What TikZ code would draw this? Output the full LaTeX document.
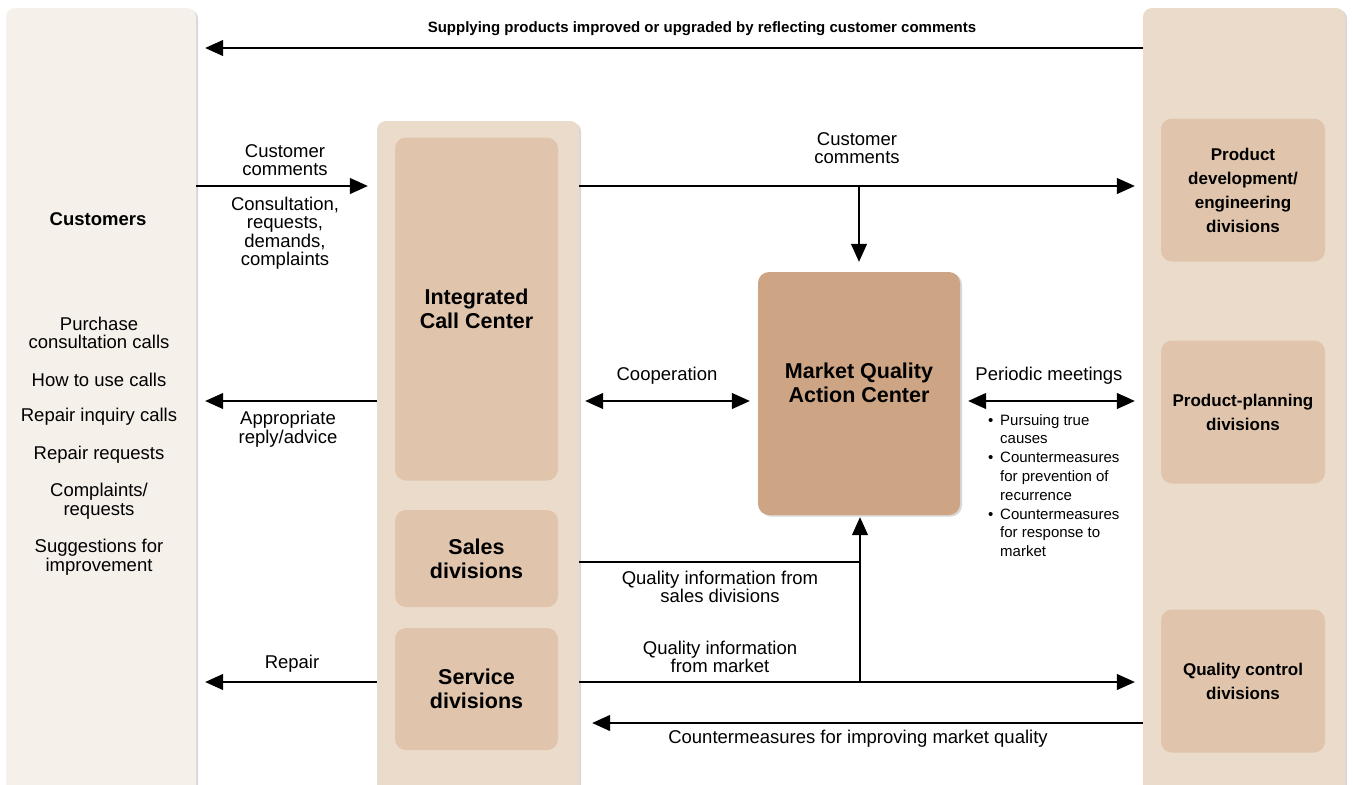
\documentclass[tikz,border=0pt]{standalone}
\usepackage{fontspec}
\setmainfont{Liberation Sans}
\usetikzlibrary{arrows.meta,shadows}
\definecolor{custbg}{HTML}{F5F0EA}
\definecolor{panelbg}{HTML}{EBDBCB}
\definecolor{boxbg}{HTML}{E0C5AC}
\definecolor{centerbg}{HTML}{CDA584}
\tikzset{
  shade/.style={drop shadow={shadow xshift=2pt, shadow yshift=-1.5pt, opacity=0.3}},
  panel/.style={fill=#1, rounded corners=9pt, inner sep=0pt, shade},
  unit/.style={fill=boxbg, rounded corners=11pt, inner sep=0pt, align=center,
               font=\fontsize{21.5}{24}\selectfont\bfseries},
  rbox/.style={unit, font=\fontsize{17}{24}\selectfont\bfseries,
               minimum width=164pt, minimum height=143pt},
  txt/.style={align=center, inner sep=0pt, font=\fontsize{18.5}{18.5}\selectfont},
  arr/.style={line width=1.2pt, -{Triangle[length=18pt,width=16pt]}},
  darr/.style={line width=1.2pt, {Triangle[length=18pt,width=16pt]}-{Triangle[length=18pt,width=16pt]}},
  ln/.style={line width=1.2pt},
}
\begin{document}
\begin{tikzpicture}[x=1pt, y=-1pt]
        \useasboundingbox (0,0) rectangle (1353,785);
        \fill[white] (0,0) rectangle (1353,785);
        \clip (0,0) rectangle (1353,785);
        %panels
        \node[panel=custbg, minimum width=190pt, minimum height=800pt] (cust) at (101,408) {};
        \node[panel=panelbg, minimum width=202pt, minimum height=690pt] (ccpanel) at (478,466) {};
        \node[panel=panelbg, minimum width=202pt, minimum height=800pt] (divs) at (1244,408) {};
        %boxes
        \node[unit, minimum width=163pt, minimum height=343pt] (icc) at (476.5,309) {Integrated\\Call Center};
        \node[unit, minimum width=163pt, minimum height=97pt] (sales) at (476.5,558.5) {Sales\\divisions};
        \node[unit, minimum width=163pt, minimum height=122pt] (svc) at (476.5,689) {Service\\divisions};
        \node[unit, fill=centerbg, shade, minimum width=202pt, minimum height=243pt] (mqac) at (859,393.5) {};
        \node[align=center, font=\fontsize{21.5}{24}\selectfont\bfseries] (mqactext) at (859,383) {Market Quality\\Action Center};
        \node[rbox] (pd) at (1243,190) {Product\\development/\\engineering\\divisions};
        \node[rbox] (pp) at (1243,412) {Product-planning\\divisions};
        \node[rbox] (qc) at (1243,681) {Quality control\\divisions};

        %rows
        \coordinate (r1) at (0,48);
        \coordinate (r2) at (0,186);
        \coordinate (r3) at (0,401);
        \coordinate (r4) at (0,562);
        \coordinate (r5) at (0,682);
        \coordinate (r6) at (0,723);
        \coordinate (jx) at (860,0);

        %arrows
        \draw[arr, shorten >=9pt] (divs.west |- r1) -- (cust.east |- r1);
        \draw[arr, shorten >=9pt] (cust.east |- r2) -- (ccpanel.west |- r2);
        \draw[arr, shorten >=8pt] (ccpanel.east |- r2) -- (divs.west |- r2);
        \draw[arr, shorten >=10pt] (mqac.north |- r2) -- (mqac.north);
        \draw[arr, shorten >=9pt] (ccpanel.west |- r3) -- (cust.east |- r3);
        \draw[darr, shorten <=6pt, shorten >=8pt] (ccpanel.east |- r3) -- (mqac.west |- r3);
        \draw[darr, shorten <=8pt, shorten >=8pt] (mqac.east |- r3) -- (divs.west |- r3);
        \draw[ln] (ccpanel.east |- r4) -- (jx |- r4);
        \draw[arr, shorten >=2pt] (jx |- r5) -- (jx |- mqac.south);
        \draw[arr, shorten >=8pt] (ccpanel.east |- r5) -- (divs.west |- r5);
        \draw[arr, shorten >=9pt] (ccpanel.west |- r5) -- (cust.east |- r5);
        \draw[arr, shorten >=13pt] (divs.west |- r6) -- (ccpanel.east |- r6);

        %labels
        \node[txt, font=\fontsize{15}{18}\selectfont\bfseries] (supply) at (702,29) {Supplying products improved or upgraded by reflecting customer comments};
        \node[txt] (ccin) at (285,160) {Customer\\comments};
        \node[txt] (consult) at (285,233) {Consultation,\\requests,\\demands,\\complaints};
        \node[txt] (ccout) at (857,148) {Customer\\comments};
        \node[txt] (reply) at (288,429) {Appropriate\\reply/advice};
        \node[txt] (coop) at (667,376) {Cooperation};
        \node[txt] (meet) at (1049,376) {Periodic meetings};
        \node[anchor=north west, inner sep=0pt, align=left, font=\fontsize{15}{18.8}\selectfont] (causes) at (988,414)
            {\makebox[12pt][l]{\textbullet}Pursuing true\\\hspace*{12pt}causes\\
             \makebox[12pt][l]{\textbullet}Countermeasures\\\hspace*{12pt}for prevention of\\\hspace*{12pt}recurrence\\
             \makebox[12pt][l]{\textbullet}Countermeasures\\\hspace*{12pt}for response to\\\hspace*{12pt}market};
        \node[txt] (qisales) at (720,587) {Quality information from\\sales divisions};
        \node[txt] (qimarket) at (720,657) {Quality information\\from market};
        \node[txt] (repair) at (292,664) {Repair};
        \node[txt] (improve) at (858,739) {Countermeasures for improving market quality};

        %customers
        \node[txt, font=\fontsize{18.5}{18.5}\selectfont\bfseries] (custname) at (98,219) {Customers};
        \node[txt] (c1) at (99,333) {Purchase\\consultation calls};
        \node[txt] (c2) at (99,380) {How to use calls};
        \node[txt] (c3) at (99,417) {Repair inquiry calls};
        \node[txt] (c4) at (99,455) {Repair requests};
        \node[txt] (c5) at (99,501) {Complaints/\\requests};
        \node[txt] (c6) at (99,557) {Suggestions for\\improvement};
\end{tikzpicture}
\end{document}
